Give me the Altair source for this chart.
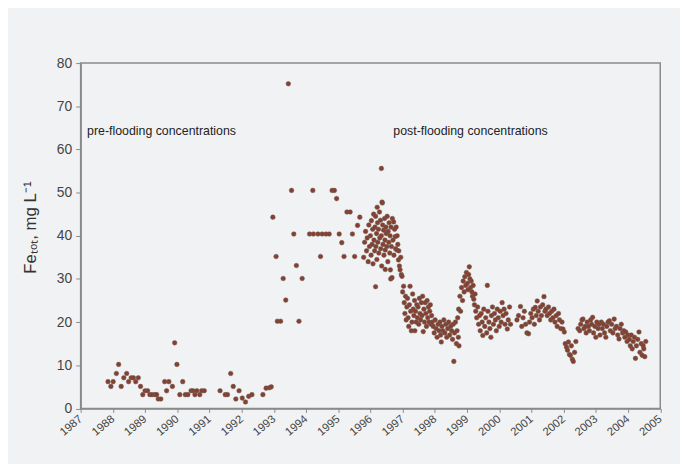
import altair as alt
import pandas as pd

# (year, Fe_tot mg/L)
pre_flood = [
    (1987.85, 6.2), (1987.94, 5.1), (1988.01, 6.2), (1988.11, 8.1), (1988.18, 10.2),
    (1988.26, 5.1), (1988.34, 7.1), (1988.43, 8.1), (1988.49, 6.2), (1988.57, 7.1),
    (1988.64, 7.1), (1988.71, 6.2), (1988.79, 7.1), (1988.86, 5.1), (1988.93, 3.2),
    (1989.00, 4.1), (1989.08, 4.1), (1989.15, 3.2), (1989.22, 3.2), (1989.31, 3.2),
    (1989.36, 3.2), (1989.41, 2.2), (1989.49, 2.2), (1989.61, 6.2), (1989.67, 4.1),
    (1989.74, 6.2), (1989.85, 5.1), (1989.92, 15.2), (1989.99, 10.2), (1990.08, 3.2),
    (1990.17, 6.2), (1990.25, 3.2), (1990.33, 3.2), (1990.43, 4.1), (1990.49, 4.1),
    (1990.55, 3.2), (1990.61, 4.1), (1990.70, 3.2), (1990.76, 4.1), (1990.84, 4.1),
    (1991.33, 4.1), (1991.49, 3.2), (1991.56, 3.2), (1991.66, 8.1), (1991.74, 5.1),
    (1991.82, 2.2), (1991.92, 4.1), (1992.02, 2.4), (1992.12, 1.5), (1992.22, 2.8),
    (1992.32, 3.2), (1992.66, 3.2), (1992.76, 4.7), (1992.86, 4.8), (1992.92, 5.0),
]

transition = [
    (1992.97, 44.3), (1993.07, 35.2), (1993.11, 20.2), (1993.21, 20.2), (1993.29, 30.1),
    (1993.37, 25.1), (1993.45, 75.2), (1993.55, 50.5), (1993.62, 40.4), (1993.70, 33.1),
    (1993.78, 20.2), (1993.88, 30.1), (1994.11, 40.4), (1994.21, 50.5), (1994.23, 40.4),
    (1994.37, 40.4), (1994.45, 35.2), (1994.50, 40.4), (1994.62, 40.4), (1994.72, 40.4),
    (1994.81, 50.5), (1994.88, 50.5), (1994.95, 48.6), (1995.03, 40.4), (1995.11, 38.4),
    (1995.18, 35.2), (1995.27, 45.5), (1995.37, 45.5), (1995.44, 40.4), (1995.51, 35.2),
    (1995.60, 42.4), (1995.67, 44.3), (1996.34, 55.6), (1996.21, 46.6), (1996.37, 47.6),
    (1996.46, 32.2), (1996.63, 30.0), (1996.16, 28.2),
]

post_flood = [
    # 1996 dense cluster
    (1995.79, 35.0), (1995.82, 38.5), (1995.85, 41.0), (1995.88, 36.5), (1995.90, 39.5),
    (1995.93, 34.0), (1995.95, 42.5), (1995.97, 37.5), (1996.00, 40.0), (1996.02, 35.5),
    (1996.03, 43.5), (1996.05, 38.0), (1996.07, 41.5), (1996.08, 33.5), (1996.10, 45.0),
    (1996.11, 39.0), (1996.13, 36.5), (1996.14, 42.0), (1996.16, 44.5), (1996.17, 37.5),
    (1996.19, 40.5), (1996.20, 34.5), (1996.22, 43.0), (1996.23, 38.5), (1996.25, 41.5),
    (1996.26, 36.0), (1996.28, 45.5), (1996.29, 39.5), (1996.31, 43.6), (1996.32, 37.0),
    (1996.34, 40.0), (1996.35, 33.0), (1996.36, 47.8), (1996.38, 42.5), (1996.39, 38.0),
    (1996.41, 41.3), (1996.42, 35.5), (1996.44, 44.0), (1996.45, 39.0), (1996.46, 36.7),
    (1996.48, 42.0), (1996.49, 40.5), (1996.51, 37.5), (1996.52, 44.5), (1996.54, 34.0),
    (1996.55, 41.0), (1996.57, 38.5), (1996.58, 43.0), (1996.60, 36.0), (1996.61, 40.0),
    (1996.62, 32.1), (1996.64, 42.0), (1996.65, 37.5), (1996.67, 30.3), (1996.68, 44.0),
    (1996.70, 39.0), (1996.72, 43.2), (1996.73, 35.5), (1996.75, 41.5), (1996.77, 39.8),
    (1996.78, 37.0), (1996.80, 42.0), (1996.82, 36.7), (1996.83, 40.0), (1996.85, 38.0),
    (1996.87, 34.4), (1996.88, 36.5), (1996.90, 33.0), (1996.92, 32.1), (1996.94, 35.0),
    (1996.96, 31.0), (1996.98, 30.6),
    # 1997
    (1997.00, 27.0), (1997.03, 28.3), (1997.05, 24.5), (1997.07, 22.0), (1997.09, 26.0),
    (1997.11, 20.5), (1997.13, 23.5), (1997.15, 25.5), (1997.17, 21.0), (1997.19, 19.0),
    (1997.21, 24.0), (1997.23, 28.3), (1997.25, 22.5), (1997.27, 18.0), (1997.29, 20.0),
    (1997.31, 26.5), (1997.33, 23.0), (1997.35, 21.5), (1997.37, 25.0), (1997.38, 18.0),
    (1997.40, 22.5), (1997.42, 20.0), (1997.44, 24.0), (1997.46, 21.0), (1997.48, 23.5),
    (1997.50, 19.5), (1997.52, 25.5), (1997.54, 22.0), (1997.56, 20.5), (1997.58, 24.5),
    (1997.60, 21.5), (1997.62, 26.0), (1997.64, 17.8), (1997.66, 23.0), (1997.68, 20.0),
    (1997.70, 24.5), (1997.72, 22.0), (1997.74, 19.0), (1997.76, 25.0), (1997.78, 21.0),
    (1997.80, 23.5), (1997.82, 20.0), (1997.84, 22.5), (1997.86, 24.0), (1997.88, 19.5),
    (1997.90, 21.5), (1997.92, 20.0),
    # 1998
    (1997.95, 19.0), (1997.98, 17.5), (1998.01, 20.5), (1998.04, 18.5), (1998.07, 16.5),
    (1998.10, 19.5), (1998.13, 18.0), (1998.16, 20.0), (1998.18, 17.0), (1998.20, 15.4),
    (1998.22, 19.0), (1998.25, 18.0), (1998.28, 20.5), (1998.31, 17.5), (1998.34, 19.5),
    (1998.37, 16.5), (1998.40, 18.5), (1998.43, 20.0), (1998.46, 17.0), (1998.49, 19.0),
    (1998.52, 18.0), (1998.55, 16.0), (1998.57, 19.5), (1998.59, 10.9), (1998.61, 17.5),
    (1998.64, 20.0), (1998.67, 15.0), (1998.69, 18.0), (1998.71, 21.0), (1998.73, 16.5),
    (1998.74, 23.0), (1998.75, 14.5),
    # 1999 peak
    (1998.78, 26.0), (1998.80, 22.5), (1998.83, 28.0), (1998.86, 25.0), (1998.88, 29.5),
    (1998.91, 27.0), (1998.93, 30.5), (1998.96, 28.5), (1998.98, 31.5), (1999.01, 29.0),
    (1999.03, 27.5), (1999.05, 31.0), (1999.07, 32.8), (1999.09, 30.0), (1999.11, 28.0),
    (1999.13, 29.5), (1999.15, 27.0), (1999.17, 26.0), (1999.19, 28.5), (1999.21, 25.3),
    (1999.23, 24.0), (1999.25, 26.5), (1999.27, 22.5), (1999.30, 21.0),
    # 1999-2000
    (1999.33, 23.5), (1999.36, 19.5), (1999.39, 21.5), (1999.41, 18.0), (1999.44, 22.0),
    (1999.47, 20.0), (1999.49, 16.9), (1999.52, 23.0), (1999.55, 19.0), (1999.58, 21.0),
    (1999.61, 17.5), (1999.63, 28.5), (1999.65, 22.5), (1999.68, 20.0), (1999.71, 18.5),
    (1999.74, 16.5), (1999.76, 21.5), (1999.79, 23.5), (1999.82, 19.5), (1999.85, 22.0),
    (1999.88, 20.5), (1999.91, 18.0), (1999.94, 23.0), (1999.97, 21.0), (2000.00, 19.0),
    (2000.03, 22.5), (2000.06, 20.0), (2000.09, 24.5), (2000.12, 21.5), (2000.15, 23.0),
    (2000.18, 19.5), (2000.21, 22.0), (2000.25, 18.4), (2000.28, 20.5), (2000.32, 23.5),
    (2000.35, 19.5),
    # 2000-2001
    (2000.55, 20.5), (2000.60, 21.5), (2000.66, 23.6), (2000.70, 19.0), (2000.74, 21.0),
    (2000.78, 22.5), (2000.82, 19.5), (2000.86, 17.5), (2000.91, 17.3), (2000.94, 20.0),
    (2000.98, 22.0), (2001.02, 21.0), (2001.06, 23.0), (2001.09, 19.5), (2001.12, 23.4),
    (2001.15, 21.5), (2001.18, 24.9), (2001.21, 22.5), (2001.25, 20.5), (2001.28, 23.5),
    (2001.31, 21.5), (2001.35, 24.0), (2001.39, 25.9), (2001.42, 22.5), (2001.45, 23.0),
    # 2001-2002
    (2001.49, 21.5), (2001.53, 23.5), (2001.56, 22.0), (2001.60, 20.5), (2001.63, 22.5),
    (2001.67, 21.0), (2001.70, 23.0), (2001.73, 20.0), (2001.77, 21.5), (2001.80, 19.0),
    (2001.84, 22.0), (2001.87, 20.5), (2001.91, 18.5), (2001.95, 20.0), (2001.98, 18.4),
    (2002.02, 17.7),
    # 2002 low
    (2002.05, 15.0), (2002.09, 14.2), (2002.12, 13.5), (2002.15, 15.4), (2002.18, 12.5),
    (2002.21, 12.3), (2002.24, 14.5), (2002.27, 11.4), (2002.30, 10.9), (2002.34, 13.0),
    (2002.38, 15.5),
    # 2002-2004
    (2002.45, 18.5), (2002.50, 18.0), (2002.53, 19.5), (2002.57, 20.5), (2002.60, 20.7),
    (2002.63, 18.5), (2002.67, 19.0), (2002.70, 17.5), (2002.73, 20.0), (2002.77, 19.0),
    (2002.80, 18.0), (2002.84, 20.5), (2002.87, 19.5), (2002.90, 21.1), (2002.93, 17.5),
    (2002.97, 19.0), (2003.00, 16.5), (2003.03, 20.0), (2003.07, 18.5), (2003.10, 19.5),
    (2003.13, 17.0), (2003.17, 20.0), (2003.20, 18.5), (2003.24, 19.5), (2003.27, 17.5),
    (2003.31, 16.5), (2003.34, 19.0), (2003.38, 20.0), (2003.42, 20.3), (2003.45, 18.0),
    (2003.49, 19.5), (2003.53, 17.5), (2003.57, 20.7), (2003.60, 18.5), (2003.64, 19.0),
    (2003.68, 17.0), (2003.72, 16.1), (2003.75, 18.5), (2003.79, 19.5), (2003.83, 17.5),
    (2003.87, 18.0), (2003.90, 16.5), (2003.93, 17.7), (2003.97, 15.5), (2004.00, 17.0),
    (2004.04, 16.0), (2004.07, 14.5), (2004.10, 17.0), (2004.13, 13.8), (2004.16, 15.5),
    (2004.20, 16.5), (2004.23, 11.6), (2004.26, 14.5), (2004.30, 16.0), (2004.34, 17.7),
    (2004.37, 13.0), (2004.41, 15.0), (2004.44, 12.3), (2004.47, 14.5), (2004.49, 13.8),
    (2004.52, 12.0), (2004.55, 15.5),
]

year_ticks = list(range(1987, 2006))
fe_ticks = list(range(0, 81, 10))

annot_text = ["pre-flooding concentrations", "post-flooding concentrations"]
annot_year = [1987.2, 1996.71]
annot_fe = [64.2, 64.2]

rows = ([(y, v, "pre") for y, v in pre_flood]
        + [(y, v, "transition") for y, v in transition]
        + [(y, v, "post") for y, v in post_flood])
df = pd.DataFrame(rows, columns=["year", "fe", "period"])
annot_df = pd.DataFrame({"year": annot_year, "fe": annot_fe, "text": annot_text})

FONT = "Liberation Sans"
x_scale = alt.Scale(domain=[1987, 2005], nice=False, zero=False)
y_scale = alt.Scale(domain=[0, 80], nice=False)

x_axis = alt.Axis(
    values=year_ticks, format="d", labelAngle=-40, labelAlign="right",
    labelBaseline="middle", labelPadding=5, tickSize=4, grid=False, title=None,
    labelFontSize=11.5, labelColor="#444444", labelFont=FONT,
    domainColor="#8a8a8a", tickColor="#8a8a8a", domainWidth=1.5,
    labelOverlap=False, labelFlush=False, labelBound=False,
)
y_axis = alt.Axis(
    values=fe_ticks, tickSize=5, grid=False, labelPadding=4,
    labelFontSize=14, labelColor="#444444", labelFont=FONT,
    domainColor="#8a8a8a", tickColor="#8a8a8a", domainWidth=1.5,
    labelOverlap=False, labelFlush=False,
    title="Feₜₒₜ, mg L⁻¹", titleFont=FONT, titleFontSize=17,
    titleFontWeight="normal", titleColor="#333333", titleAngle=270,
    titleBaseline="alphabetic", titleAlign="center", titleX=-46, titleY=166,
)

points = alt.Chart(df).mark_circle(
    size=22, color="#86402f", opacity=1, stroke="#6e5b55", strokeWidth=0.5
).encode(
    x=alt.X("year:Q", scale=x_scale, axis=x_axis),
    y=alt.Y("fe:Q", scale=y_scale, axis=y_axis),
)

labels = alt.Chart(annot_df).mark_text(
    align="left", baseline="middle", fontSize=12.5, font=FONT, color="#222222"
).encode(
    x=alt.X("year:Q", scale=x_scale, axis=x_axis),
    y=alt.Y("fe:Q", scale=y_scale, axis=y_axis),
    text="text:N",
)

chart = alt.layer(points, labels).properties(
    width=586.5, height=349.5,
    autosize=alt.AutoSizeParams(type="none"),
    padding={"left": 73.5, "top": 53, "right": 20, "bottom": 53.5},
    background="#f1f2f4",
).configure_view(stroke="#8a8a8a", strokeWidth=1.5)

chart.save("out.html", embed_options={"renderer": "svg", "actions": False})
